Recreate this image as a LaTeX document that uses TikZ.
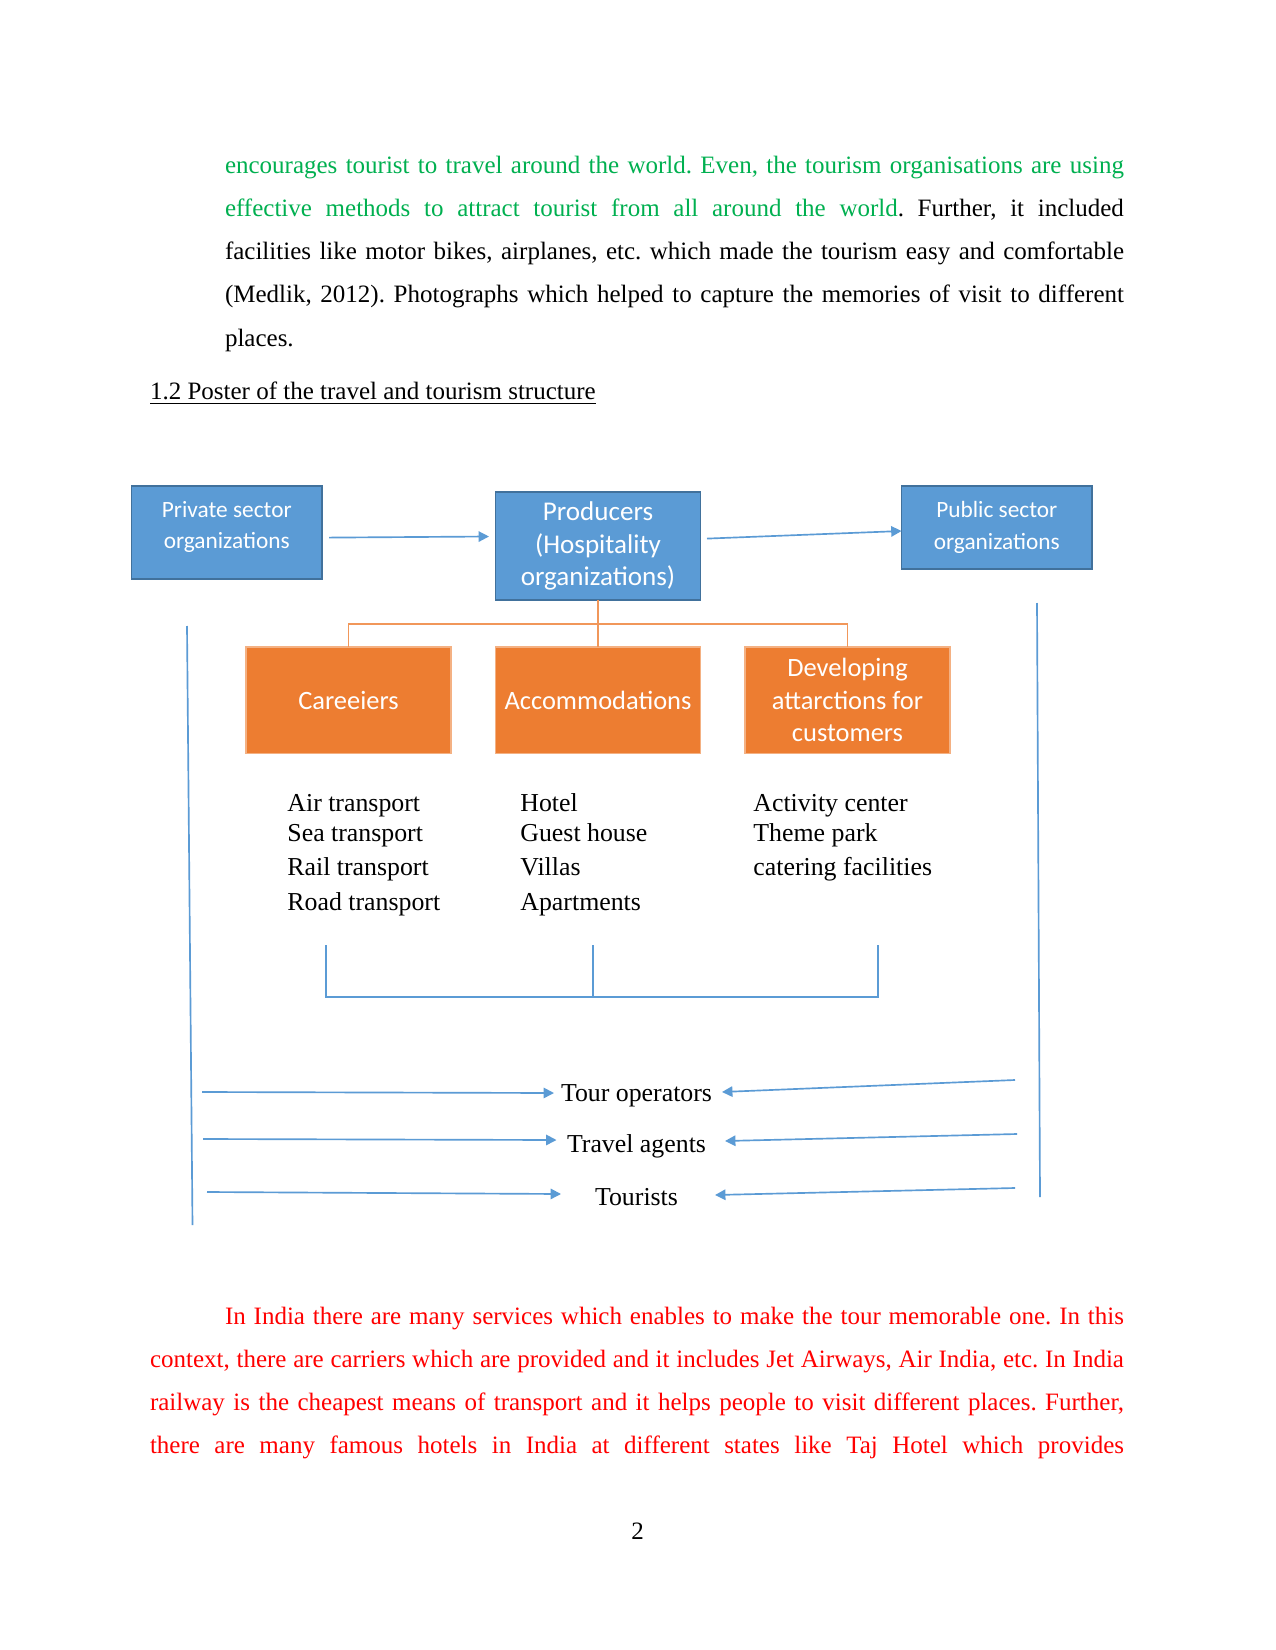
\documentclass[tikz,border=0pt]{standalone}
\usepackage{fontspec}
\setmainfont{Liberation Serif}
\newfontfamily\boxfont{Carlito}
\usetikzlibrary{arrows.meta}
\definecolor{txtgreen}{HTML}{00B050}
\definecolor{txtred}{HTML}{FF0000}
\definecolor{bluefill}{HTML}{5B9BD5}
\definecolor{blueedge}{HTML}{41719C}
\definecolor{orangefill}{HTML}{ED7D31}
\definecolor{orangeedge}{HTML}{F4B183}
\definecolor{bline}{HTML}{5B9BD5}
\frenchspacing
\begin{document}
\begin{tikzpicture}[x=0.48pt,y=-0.48pt,
  body/.style={anchor=base west,inner sep=0pt,outer sep=0pt,font=\fontsize{12}{14}\selectfont},
  bluebox/.style={rectangle,fill=bluefill,draw=blueedge,line width=0.6pt,text=white,align=center,inner sep=0pt,outer sep=0pt,minimum width=91.4pt},
  orangebox/.style={rectangle,fill=orangefill,draw=orangeedge,line width=0.5pt,text=white,align=center,inner sep=0pt,outer sep=0pt,minimum width=98.4pt,minimum height=50.9pt,font=\boxfont\fontsize{12.7}{15.6}\selectfont},
  listtext/.style={anchor=base west,inner sep=0pt,font=\fontsize{12.4}{15}\selectfont},
  flowtext/.style={anchor=base,inner sep=0pt,font=\fontsize{12.4}{15}\selectfont},
  bluearrow/.style={draw=bline,line width=0.8pt,-{Triangle[length=5pt,width=5pt]}},
  blueline/.style={draw=bline,line width=0.8pt},
  orangeline/.style={draw=orangefill!80!white,line width=0.9pt}
]
\useasboundingbox (0,0) rectangle (1275,1650);
\fill[white] (0,0) rectangle (1275,1650);

% upper paragraph
\node[body] (p1) at (225,173.6) {\makebox[431.5pt][s]{\color{txtgreen}encourages tourist to travel around the world. Even, the tourism organisations are using}};
\node[body] (p2) at (225,216.7) {\makebox[431.5pt][s]{\color{txtgreen}effective methods to attract tourist from all around the world\color{black}. Further, it included}};
\node[body] (p3) at (225,259.8) {\makebox[431.5pt][s]{facilities like motor bikes, airplanes, etc. which made the tourism easy and comfortable}};
\node[body] (p4) at (225,303) {\makebox[431.5pt][s]{(Medlik, 2012). Photographs which helped to capture the memories of visit to different}};
\node[body] (p5) at (225,346.1) {places.};

% heading
\node[body] (head) at (150,399.8) {\underline{1.2 Poster of the travel and tourism structure}};

% top boxes
\node[bluebox,minimum height=44.6pt,font=\boxfont\fontsize{11.2}{15}\selectfont] (priv) at (226.75,532.5) {};
\node[text=white,align=center,inner sep=0pt,font=\boxfont\fontsize{11.2}{15}\selectfont] (privtext) at (226.75,527) {Private sector\\organizations};
\node[bluebox,minimum width=98.4pt,minimum height=51.8pt,font=\boxfont\fontsize{13}{15.7}\selectfont] (prod) at (598,546) {Producers\\(Hospitality\\organizations)};
\node[bluebox,minimum height=39.8pt,font=\boxfont\fontsize{11.2}{15}\selectfont] (pub) at (996.8,527.5) {Public sector\\organizations};

\coordinate (a1s) at (329,537.6);
\coordinate (a1e) at (489,536.5);
\coordinate (a2s) at (707,538.6);
\draw[bluearrow] (a1s) -- (a1e);
\draw[bluearrow] (a2s) -- (pub.west |- 0,531);

% orange boxes
\node[orangebox] (car) at (348.5,700) {Careeiers};
\node[orangebox] (acc) at (598,700) {Accommodations};
\node[orangebox] (dev) at (847.5,700) {Developing\\attarctions for\\customers};

\coordinate (ob) at (598,624);
\draw[orangeline] (prod.south) -- (ob);
\draw[orangeline] (acc.north) -- (ob);
\draw[orangeline] (car.north) -- (car.north |- ob) -- (dev.north |- ob) -- (dev.north);

% lists
\node[listtext] (l11) at (287,811) {Air transport};
\node[listtext] (l12) at (287,841.5) {Sea transport};
\node[listtext] (l13) at (287,875) {Rail transport};
\node[listtext] (l14) at (287,910) {Road transport};
\node[listtext] (l21) at (520,811) {Hotel};
\node[listtext] (l22) at (520,841.5) {Guest house};
\node[listtext] (l23) at (520,875) {Villas};
\node[listtext] (l24) at (520,910) {Apartments};
\node[listtext] (l31) at (753,811) {Activity center};
\node[listtext] (l32) at (753,841.5) {Theme park};
\node[listtext] (l33) at (753,875) {catering facilities};

% bracket
\coordinate (b1t) at (326,945);
\coordinate (b1b) at (326,997);
\coordinate (b2t) at (593,945);
\coordinate (b2b) at (593,997);
\coordinate (b3t) at (878,945);
\coordinate (b3b) at (878,997);
\draw[blueline] (b1t) -- (b1b) -- (b3b) -- (b3t);
\draw[blueline] (b2t) -- (b2b);

% side lines
\coordinate (vl1) at (187,626);
\coordinate (vl2) at (192.5,1225);
\coordinate (vr1) at (1037,603);
\coordinate (vr2) at (1040,1197);
\draw[blueline] (vl1) -- (vl2);
\draw[blueline] (vr1) -- (vr2);

% bottom flow
\node[flowtext] (tour) at (636.5,1101) {Tour operators};
\node[flowtext] (trav) at (636.5,1152) {Travel agents};
\node[flowtext] (tst) at (636.5,1205.5) {Tourists};

\coordinate (t1l) at (202,1092);
\coordinate (t1le) at (554,1093);
\coordinate (t1r) at (1015,1080);
\coordinate (t1re) at (722,1092);
\coordinate (t2l) at (203,1139);
\coordinate (t2le) at (556.5,1140);
\coordinate (t2r) at (1017,1134);
\coordinate (t2re) at (725,1141);
\coordinate (t3l) at (207,1192);
\coordinate (t3le) at (561,1194);
\coordinate (t3r) at (1015,1188);
\coordinate (t3re) at (715,1195);
\draw[bluearrow] (t1l) -- (t1le);
\draw[bluearrow] (t1r) -- (t1re);
\draw[bluearrow] (t2l) -- (t2le);
\draw[bluearrow] (t2r) -- (t2re);
\draw[bluearrow] (t3l) -- (t3le);
\draw[bluearrow] (t3r) -- (t3re);

% lower paragraph
\node[body] (q1) at (225,1324.5) {\makebox[431.5pt][s]{\color{txtred}In India there are many services which enables to make the tour memorable one. In this}};
\node[body] (q2) at (150,1367.6) {\makebox[467.5pt][s]{\color{txtred}context, there are carriers which are provided and it includes Jet Airways, Air India, etc. In India}};
\node[body] (q3) at (150,1410.7) {\makebox[467.5pt][s]{\color{txtred}railway is the cheapest means of transport and it helps people to visit different places. Further,}};
\node[body] (q4) at (150,1453.9) {\makebox[467.5pt][s]{\color{txtred}there are many famous hotels in India at different states like Taj Hotel which provides}};

% page number
\node[anchor=base,inner sep=0pt,font=\fontsize{12}{14}\selectfont] (pg) at (637.5,1539) {2};
\end{tikzpicture}
\end{document}
